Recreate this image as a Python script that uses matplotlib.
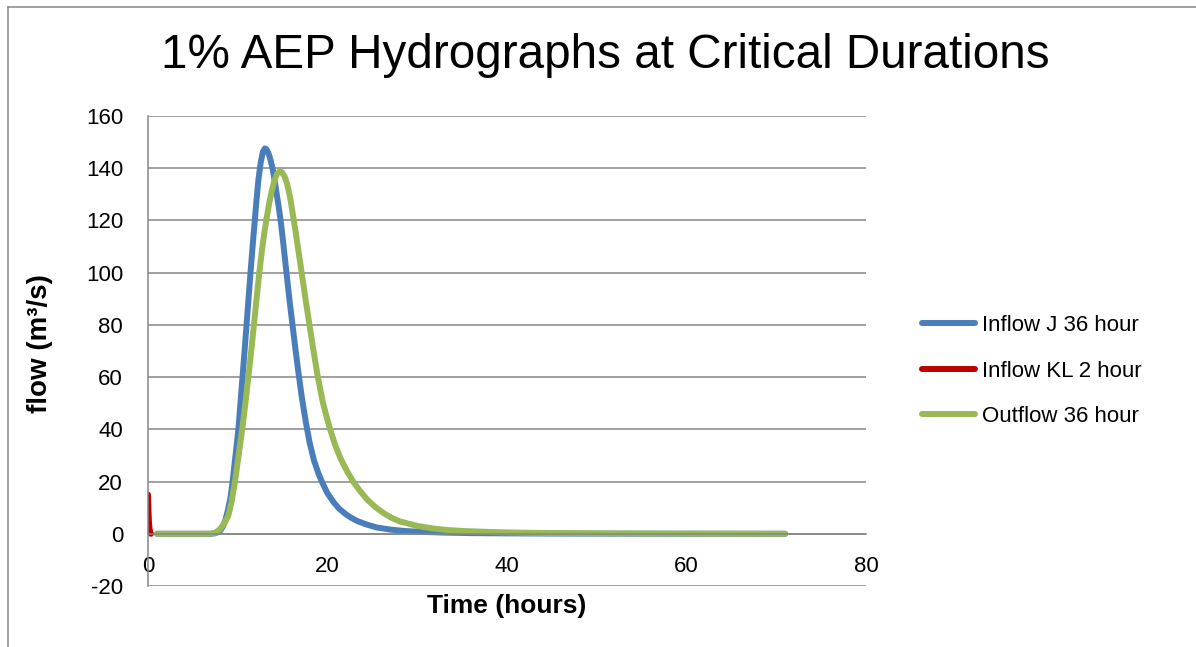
import matplotlib
matplotlib.use("Agg")
import matplotlib.pyplot as plt
from matplotlib.lines import Line2D

plt.rcParams['font.family'] = ['Liberation Sans', 'DejaVu Sans']
plt.rcParams['axes.unicode_minus'] = False

# hydrograph readings (hours, m3/s)
inflow_j_t = [1.0, 5, 7.0, 7.5, 8.0, 8.3, 8.6, 8.9, 9.2, 9.43, 9.75, 10.07, 10.3,
              10.53, 10.76, 10.98, 11.2, 11.42, 11.63, 11.85, 12.07, 12.3, 12.55,
              12.8, 13.04, 13.25, 13.5, 13.7, 13.9, 14.1, 14.3, 14.55, 14.8, 15.08,
              15.38, 15.75, 16.1, 16.4, 16.75, 17.15, 17.6, 18.0, 18.5, 19.0, 19.5,
              20.0, 20.7, 21.3, 22.0, 22.6, 23.3, 24.4, 25.5, 27, 28.5, 30, 33, 36,
              40, 45, 55, 71]
inflow_j_q = [0, 0, 0, 0.2, 1, 2.5, 5, 9, 14, 20, 30, 40, 50,
              60, 70, 80, 90, 100, 109, 118, 127, 135.5, 142,
              146.3, 147.6, 147, 145, 142.5, 139.5, 135.5, 131, 125.5, 119.5, 111,
              101.5, 90, 80, 71.5, 62, 52, 42.5, 35, 28, 23, 19,
              15.5, 12, 9.6, 7.6, 6.2, 4.9, 3.5, 2.4, 1.6, 1.1, 0.8, 0.45, 0.25,
              0.15, 0.08, 0.03, 0]

inflow_kl_t = [0, 0.02, 0.05, 0.1, 0.17, 0.25, 0.33]
inflow_kl_q = [15, 13, 9, 5, 2, 0.5, 0]

outflow_t = [1.0, 5, 7.0, 7.5, 8.0, 8.5, 8.95, 9.3, 9.69, 10.1, 10.55, 10.85, 11.18,
             11.5, 11.8, 12.1, 12.4, 12.7, 12.95, 13.2, 13.5, 13.8, 14.1, 14.4,
             14.65, 14.9, 15.2, 15.5, 15.85, 16.2, 16.5, 16.8, 17.1, 17.5, 17.97,
             18.4, 18.87, 19.5, 20.2, 20.85, 21.5, 22.2, 22.9, 23.6, 24.4, 25.3,
             26.3, 27.2, 28.1, 30, 31.8, 33.5, 35.5, 39, 43, 50, 60, 71]
outflow_q = [0, 0, 0, 0.4, 1.7, 4, 7, 12, 20, 30, 41.5, 50, 60,
             70, 80, 90, 100, 108.7, 115, 120.5, 126.5, 131.5, 135.5, 138,
             138.8, 138.5, 137, 134, 128.5, 121, 114.5, 107.5, 100.5, 91, 80.5,
             71, 61, 50, 41, 34, 28.5, 23.8, 19.8, 16.5, 13.2, 10.3,
             7.8, 6.0, 4.7, 3.0, 2.0, 1.4, 1.0, 0.6, 0.35, 0.15, 0.05, 0]

x_ticks = [0, 20, 40, 60, 80]
y_ticks = [-20, 0, 20, 40, 60, 80, 100, 120, 140, 160]

W, H = 1196, 647
fig = plt.figure(figsize=(W / 100, H / 100), dpi=100)
ax = fig.add_axes([148 / W, 1 - 586 / H, (866 - 148) / W, (586 - 116) / H])

grid_c = '#868686'
lw = 4.3
ax.plot(inflow_j_t, inflow_j_q, color='#4A7EBB', lw=lw, solid_capstyle='round',
        solid_joinstyle='round', label='Inflow J 36 hour')
ax.plot(inflow_kl_t, inflow_kl_q, color='#C00000', lw=lw, solid_capstyle='round',
        solid_joinstyle='round', label='Inflow KL 2 hour')
ax.plot(outflow_t, outflow_q, color='#98B954', lw=lw, solid_capstyle='round',
        solid_joinstyle='round', label='Outflow 36 hour')

ax.set_xlim(0, 80)
ax.set_ylim(-20, 160)
ax.set_xticks(x_ticks)
ax.set_yticks(y_ticks)
ax.grid(axis='y', color=grid_c, lw=1.1)
ax.set_axisbelow(True)

for s in ('top', 'right'):
    ax.spines[s].set_visible(False)
ax.spines['bottom'].set_position(('data', 0))
ax.spines['bottom'].set_color(grid_c)
ax.spines['bottom'].set_linewidth(1.1)
ax.spines['left'].set_color(grid_c)
ax.spines['left'].set_linewidth(1.1)
ax.tick_params(axis='x', length=0, pad=16, labelsize=16)
ax.tick_params(axis='y', length=0, pad=18, labelsize=16)

ax.set_xlabel('Time (hours)', fontsize=19, fontweight='bold')
ax.xaxis.set_label_coords(0.5, -0.018)
ax.xaxis.label.set_va('top')
ax.set_ylabel('flow (m³/s)', fontsize=20, fontweight='bold')
ax.yaxis.set_label_coords(-0.132, 0.515)

fig.text(605 / W, 1 - 55 / H, '1% AEP Hydrographs at Critical Durations',
         ha='center', va='center', fontsize=34.3)

ax.legend(loc='center left', bbox_to_anchor=(922 / W, 1 - 371 / H),
          bbox_transform=fig.transFigure, frameon=False, fontsize=16,
          borderpad=0, borderaxespad=0, handlelength=2.4, handletextpad=0.3,
          labelspacing=1.1)

# chart border (only top and left edges visible)
fig.add_artist(Line2D([8 / W, 1], [1 - 7 / H] * 2, transform=fig.transFigure,
                      color=grid_c, lw=1.1))
fig.add_artist(Line2D([8 / W] * 2, [0, 1 - 7 / H], transform=fig.transFigure,
                      color=grid_c, lw=1.1))

fig.savefig('out.png', dpi=100)
